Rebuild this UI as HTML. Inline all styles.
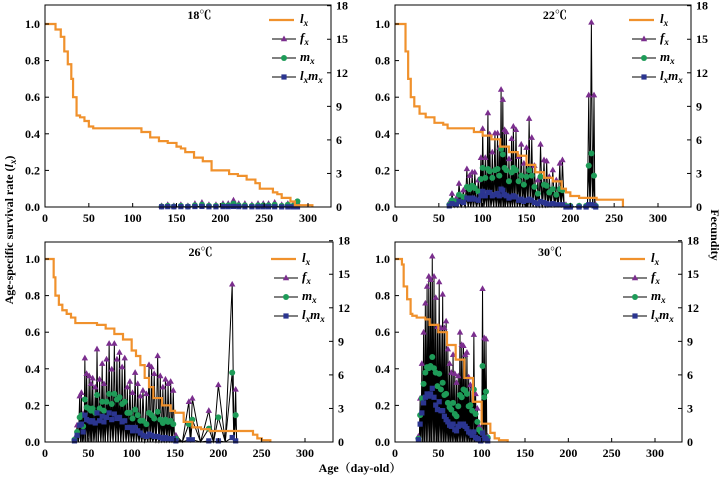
<!DOCTYPE html>
<html><head><meta charset="utf-8"><style>
body{margin:0;background:#fff;}
svg{display:block;font-family:"Liberation Serif","Noto Serif CJK SC",serif;font-weight:bold;}
</style></head><body>
<svg id="chart" width="721" height="478" viewBox="0 0 721 478" xmlns="http://www.w3.org/2000/svg">
<text transform="translate(13,230) rotate(-90)" text-anchor="middle" font-size="12">Age-specific survival rate (<tspan font-style="italic">l<tspan font-size="9" dy="3">x</tspan></tspan><tspan dy="-3">)</tspan></text>
<text transform="translate(711,235) rotate(90)" text-anchor="middle" font-size="12">Fecundity</text>
<text x="360" y="472" text-anchor="middle" font-size="12">Age（day-old）</text>
</svg>
<script>
// ---- data (ages in days; lx proportion; fx, mx, lxmx in fecundity units) ----
const titles = ["18℃","22℃","26℃","30℃"];
const lxAge18 = [0,8,12,18,22,26,30,32,36,40,45,50,55,100,110,120,130,140,150,155,160,170,180,190,200,210,220,230,240,245,255,260,265,270,280,285,293,305];
const lxVal18 = [1,1,0.97,0.93,0.85,0.78,0.7,0.6,0.5,0.49,0.47,0.44,0.43,0.43,0.41,0.38,0.36,0.35,0.33,0.32,0.3,0.27,0.25,0.2,0.2,0.18,0.17,0.15,0.13,0.1,0.1,0.08,0.07,0.05,0.03,0.01,0.01,0];
const lxAge22 = [0,8,12,15,18,22,28,35,45,55,60,80,90,100,110,120,130,140,150,160,170,180,190,195,200,210,220,230,258,260];
const lxVal22 = [1,1,0.85,0.7,0.6,0.55,0.51,0.49,0.46,0.45,0.43,0.43,0.41,0.39,0.37,0.33,0.3,0.28,0.23,0.19,0.16,0.14,0.1,0.08,0.06,0.05,0.05,0.04,0.04,0];
const lxAge26 = [0,8,10,12,16,20,25,30,35,55,60,70,80,90,100,105,110,115,120,125,135,145,150,160,170,180,190,220,240,245,250,260];
const lxVal26 = [1,1,0.9,0.8,0.75,0.72,0.7,0.68,0.65,0.65,0.64,0.62,0.59,0.56,0.5,0.47,0.42,0.35,0.3,0.24,0.2,0.17,0.16,0.11,0.08,0.07,0.06,0.06,0.04,0.02,0.01,0];
const lxAge30 = [0,5,8,10,14,18,20,25,35,40,50,60,70,80,90,100,110,115,120,130];
const lxVal30 = [1,1,0.97,0.85,0.78,0.7,0.69,0.68,0.67,0.64,0.6,0.53,0.45,0.35,0.22,0.1,0.05,0.02,0.01,0];

const fAge18 = [133,140,147,155,163,171,179,187,195,203,209,215,221,228,236,243,249,255,262,270,277,283,288];
const fx18   = [0.1,0.2,0.1,0.2,0.1,0.3,0.4,0.2,0.2,0.3,0.3,0.6,0.3,0.3,0.2,0.3,0.3,0.3,0.4,0.2,0.3,0.2,0.4];
const mx18   = [0.05,0.1,0.05,0.1,0.05,0.15,0.2,0.1,0.1,0.15,0.15,0.3,0.15,0.15,0.1,0.15,0.15,0.15,0.2,0.1,0.2,0.1,0.5];
const lm18   = [0.02,0.03,0.02,0.03,0.02,0.04,0.05,0.02,0.02,0.03,0.03,0.05,0.03,0.02,0.02,0.02,0.02,0.02,0.02,0.01,0.01,0.01,0.01];

const fAge22 = [62,65,70,73,78,82,85,88,91,95,98,100,103,106,108,111,114,117,119,121,123,125,127,130,133,135,138,141,144,147,150,153,156,159,163,166,170,173,176,180,184,188,191,195,200,210,218,221,224,227,229];
const fx22   = [0.4,1.2,0.8,2.1,1.5,3.4,2.8,3.1,3.1,2.4,4.4,7.0,4.4,8.4,6.5,4.9,6.6,6.6,5.3,10.5,9.6,6.9,6.7,4.3,6.1,7.2,6.9,4.5,5.6,3.9,5.3,7.9,6.2,3.7,2.4,5.6,4.2,4.1,2.7,3.3,2.4,3.9,4.2,0.2,0.1,0.1,0.1,10.0,16.5,10.0,0.2];
const mx22   = [0.2,0.6,0.5,1.1,0.9,1.8,1.6,1.9,1.7,1.4,2.5,3.5,2.6,3.4,3.2,2.6,3.3,3.4,2.8,5.2,4.7,3.5,3.3,2.3,3.1,3.5,3.3,2.3,2.8,2.0,2.7,3.3,2.8,1.8,1.2,2.7,2.0,1.9,1.3,1.6,1.1,1.6,1.5,0.1,0.1,0.1,0.1,3.7,4.8,2.8,0.1];
const lm22   = [0.1,0.3,0.2,0.5,0.4,0.8,0.7,0.8,0.7,0.6,1.0,1.4,1.0,1.3,1.3,1.0,1.1,1.2,1.0,1.6,1.5,1.1,1.0,0.8,0.9,1.0,0.9,0.6,0.7,0.5,0.6,0.7,0.6,0.4,0.3,0.5,0.4,0.3,0.2,0.3,0.2,0.2,0.2,0.0,0.0,0.0,0.0,0.2,0.2,0.1,0.0];

const fAge26 = [34,37,40,42,44,46,48,51,53,55,58,60,63,66,68,71,74,77,80,83,86,89,92,95,98,101,104,107,110,113,117,120,123,126,130,133,136,139,142,145,148,151,166,170,189,200,216,220];
const fx26   = [0.3,1.5,4.1,4.4,2.5,7.5,6.1,5.9,5.2,5.7,4.9,8.3,5.6,7.0,5.2,7.4,8.8,6.5,8.8,7.4,8.0,6.7,7.5,4.9,5.4,4.4,6.2,5.2,4.1,4.6,4.3,6.9,6.7,6.1,7.7,5.9,4.9,5.6,5.2,5.4,4.6,0.6,3.6,3.9,2.8,5.1,14.1,4.7];
const mx26   = [0.2,0.9,2.2,2.4,1.4,3.8,3.1,3.0,2.8,3.0,2.6,4.2,3.0,3.6,2.8,3.6,4.3,3.4,4.3,3.8,4.0,3.4,3.6,2.6,2.6,2.1,2.9,2.4,1.9,1.9,1.6,2.6,2.4,2.1,2.7,2.0,1.7,2.0,1.8,1.9,1.6,0.3,1.6,2.0,1.2,2.2,6.2,2.4];
const lm26   = [0.1,0.6,1.5,1.6,0.9,2.4,2.0,1.9,1.8,1.9,1.7,2.6,1.9,2.3,1.8,2.2,2.6,2.0,2.5,2.1,2.2,1.8,1.9,1.3,1.3,1.0,1.3,1.0,0.8,0.6,0.5,0.7,0.6,0.5,0.5,0.4,0.3,0.4,0.3,0.3,0.3,0.1,0.2,0.2,0.1,0.1,0.4,0.1];

const fAge30 = [27,29,31,33,35,37,39,41,43,45,47,49,51,53,55,57,59,61,63,65,67,69,71,73,75,77,79,81,83,85,87,89,91,93,95,97,99,101,103,105,107];
const fx30   = [0.5,3.9,7.0,9.8,12.4,13.9,14.8,14.5,16.6,14.8,12.9,10.3,14.3,10.2,13.2,10.2,10.8,8.3,7.0,6.2,7.8,6.1,5.3,5.9,9.8,8.7,8.6,7.8,8.0,5.8,5.1,4.8,9.6,4.3,3.0,1.4,1.2,13.7,9.3,9.2,0.5];
const mx30   = [0.3,2.4,3.9,5.2,6.2,6.7,6.6,6.8,7.6,6.6,6.2,5.0,6.1,4.7,5.3,4.2,4.3,3.5,3.1,2.9,3.5,2.5,2.3,3.2,4.2,4.0,4.7,4.6,4.3,3.2,3.3,2.8,4.7,2.5,1.8,1.1,0.9,6.8,4.0,4.5,0.4];
const lm30   = [0.2,1.6,2.6,3.5,4.0,4.3,4.1,4.3,4.8,4.0,3.3,2.9,3.6,2.8,2.8,2.3,2.0,1.8,1.5,1.4,1.6,1.1,1.0,1.4,1.6,1.5,1.6,1.4,1.2,0.9,0.8,0.6,0.9,0.4,0.3,0.2,0.1,0.8,0.4,0.3,0.1];

const xTicks = [0,50,100,150,200,250,300];
const yTicksL = [0,0.2,0.4,0.6,0.8,1.0];
const yTicksR = [0,3,6,9,12,15,18];

// ---- layout ----
const panels = [
 {L:45,R:331,T:5,B:207,x300:308,y1:24,lxA:lxAge18,lxV:lxVal18,fA:fAge18,f:fx18,m:mx18,lm:lm18,ty:19,lgY:20},
 {L:395,R:691,T:5,B:207,x300:658,y1:24,lxA:lxAge22,lxV:lxVal22,fA:fAge22,f:fx22,m:mx22,lm:lm22,ty:19,lgY:20},
 {L:45,R:333,T:242,B:442,x300:305,y1:259,lxA:lxAge26,lxV:lxVal26,fA:fAge26,f:fx26,m:mx26,lm:lm26,ty:256,lgY:259},
 {L:395,R:682,T:242,B:442,x300:655,y1:259,lxA:lxAge30,lxV:lxVal30,fA:fAge30,f:fx30,m:mx30,lm:lm30,ty:256,lgY:259}
];
const NS="http://www.w3.org/2000/svg";
const svg=document.getElementById('chart');
function mk(tag,attrs,parent){const e=document.createElementNS(NS,tag);for(const k in attrs)e.setAttribute(k,attrs[k]);(parent||svg).appendChild(e);return e;}
const ORANGE="#F0912C",PURPLE="#7B2E8E",GREEN="#1E9B58",NAVY="#2B3590";

function marker(g,kind,x,y){
  let e;
  if(kind==='tri') e=mk('polygon',{points:`${x},${y-3.5} ${x-3.2},${y+2.2} ${x+3.2},${y+2.2}`,fill:PURPLE},g);
  else if(kind==='cir') e=mk('circle',{cx:x,cy:y,r:3,fill:GREEN},g);
  else e=mk('rect',{x:x-2.6,y:y-2.6,width:5.2,height:5.2,fill:NAVY},g);
  return e;
}

panels.forEach((p,i)=>{
  const sx=a=>p.L+a*(p.x300-p.L)/300;
  const syL=v=>p.B-v*(p.B-p.y1);
  const syR=v=>syL(v/16.3636);
  const g=mk('g',{});
  
  
  const series=[[p.f,'tri','fx'],[p.m,'cir','mx'],[p.lm,'sq','lxmx']];
  // spiky lines: each value rises from baseline (zero-output days between records)
  series.forEach(([vals,kind,nm])=>{
    let d='';
    p.fA.forEach((a,j)=>{
      const x=sx(a),y=syR(vals[j]);
      if(j===0) d+='M'+x+','+p.B;
      else { const xm=(sx(p.fA[j-1])+x)/2; d+='L'+xm+','+p.B; }
      d+='L'+x+','+y;
    });
    d+='L'+(sx(p.fA[p.fA.length-1])+1)+','+p.B;
    const ln=mk('path',{d:d,fill:'none',stroke:'#000','stroke-width':1},g);
    
    
  });
  series.forEach(([vals,kind,nm])=>{
    p.fA.forEach((a,j)=>{
      const mkEl=marker(g,kind,sx(a),syR(vals[j]));
      
      
    });
  });
  // lx stepped
  let d='';
  p.lxA.forEach((a,j)=>{
    if(j===0) d+='M'+sx(a)+','+syL(p.lxV[j]);
    else d+='H'+sx(a)+'V'+syL(p.lxV[j]);
  });
  const lx=mk('path',{d:d,fill:'none',stroke:ORANGE,'stroke-width':2.2},g);
  
  
  const fr=mk('rect',{x:p.L,y:p.T,width:p.R-p.L,height:p.B-p.T,fill:'none',stroke:'#000','stroke-width':1},g);
  
  
  xTicks.forEach(t=>{
    mk('line',{x1:sx(t),x2:sx(t),y1:p.B,y2:p.B-4,stroke:'#000'},g);
    const tx=mk('text',{x:sx(t),y:p.B+15,'text-anchor':'middle','font-size':12},g);
    tx.textContent=t;
    
    
  });
  yTicksL.forEach(t=>{
    mk('line',{x1:p.L,x2:p.L+4,y1:syL(t),y2:syL(t),stroke:'#000'},g);
    const tx=mk('text',{x:p.L-5,y:syL(t)+4,'text-anchor':'end','font-size':12},g);
    tx.textContent=t.toFixed(1);
    
    
  });
  yTicksR.forEach(t=>{
    mk('line',{x1:p.R,x2:p.R-4,y1:syR(t),y2:syR(t),stroke:'#000'},g);
    const tx=mk('text',{x:p.R+5,y:syR(t)+4,'text-anchor':'start','font-size':12},g);
    tx.textContent=t;
    
    
  });
  const tt=mk('text',{x:p.L+(p.R-p.L)*0.54,y:p.ty,'text-anchor':'middle','font-size':12},g);
  tt.textContent=titles[i];
  
  
  const lgX=p.R-62;
  const labs=[['l','x',null],['f','x','tri'],['m','x','cir'],['l','x','sq']];
  labs.forEach((lb,j)=>{
    const y=p.lgY+j*19;
    const lg=mk('g',{},g);
    
    
    if(j===0) mk('line',{x1:lgX,x2:lgX+25,y1:y,y2:y,stroke:ORANGE,'stroke-width':2.2},lg);
    else { mk('line',{x1:lgX+3,x2:lgX+27,y1:y,y2:y,stroke:'#000','stroke-width':1},lg); marker(lg,lb[2],lgX+15,y); }
    const t=mk('text',{x:lgX+31,y:y+3,'font-size':13,'font-style':'italic'},lg);
    if(j===3){ t.innerHTML='l<tspan font-size="9" dy="3">x</tspan><tspan dy="-3">m</tspan><tspan font-size="9" dy="3">x</tspan>'; }
    else t.innerHTML=lb[0]+'<tspan font-size="9" dy="3">x</tspan>';
  });
});
</script>
</body></html>
